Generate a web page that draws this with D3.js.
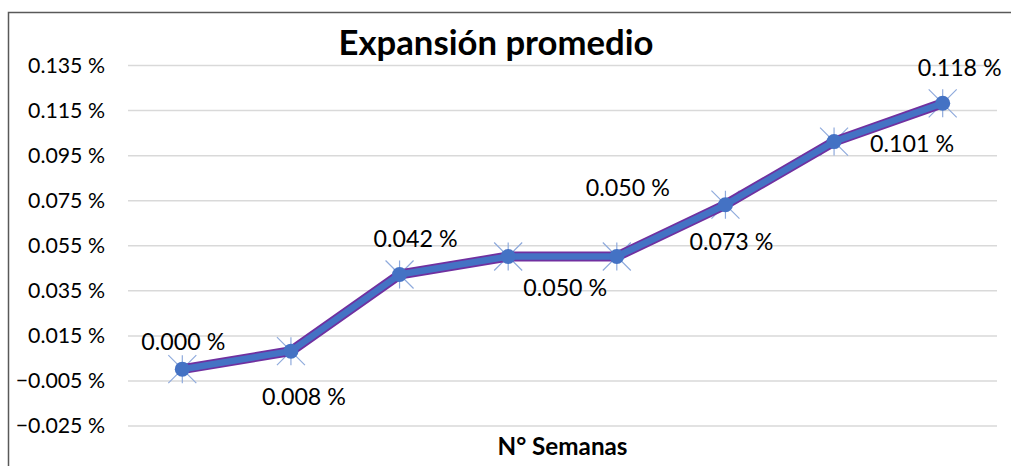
<!DOCTYPE html>
<html>
<head>
<meta charset="utf-8">
<script src="https://cdn.jsdelivr.net/npm/d3@7"></script>
<style>
  html, body { margin: 0; padding: 0; background: #fff; }
  svg { display: block; }
  text { font-family: Lato, "Open Sans", sans-serif; fill: #000; }
</style>
</head>
<body>
<svg id="chart" width="1011" height="466"></svg>
<script>
// Weekly average expansion (percent)
const weeks = ["1", "2", "3", "4", "5", "6", "7", "8"];
const expansion = [0.000, 0.008, 0.042, 0.050, 0.050, 0.073, 0.101, 0.118];
const yTicks = [-0.025, -0.005, 0.015, 0.035, 0.055, 0.075, 0.095, 0.115, 0.135];
const chartTitle = "Expansión promedio";
const xTitle = "N° Semanas";

// Label placement around each point (dx, dy of label baseline centre)
const labelOffsets = [
  [1, -19], [13, 54], [16, -28], [57, 39],
  [11, -61], [6, 45], [78, 10], [17, -27]
];

const svg = d3.select("#chart");
const plot = { left: 128, right: 997, top: 65, bottom: 425.5 };

const x = d3.scalePoint().domain(weeks).range([plot.left, plot.right]).padding(0.5);
const y = d3.scaleLinear().domain([-0.025, 0.135]).range([plot.bottom, plot.top]);
const fmt = v => d3.format(".3f")(v) + " %";

// Size a font so a sample string spans a given width
function fitSize(sample, width, weight) {
  const t = svg.append("text").attr("font-size", 100).attr("font-weight", weight || "normal").text(sample);
  const w = t.node().getComputedTextLength();
  t.remove();
  return 100 * width / w;
}
const tickSize = fitSize("0.135 %", 77);
const labelSize = fitSize("0.000 %", 84);
const titleSize = fitSize(chartTitle, 315, "bold");
const xTitleSize = fitSize(xTitle, 130, "bold");

// Chart frame
svg.append("rect")
  .attr("x", 8.5).attr("y", 12.5)
  .attr("width", 1100).attr("height", 600)
  .attr("fill", "none").attr("stroke", "#595959").attr("stroke-width", 1.5);

// Gridlines and value axis labels
const yAxis = d3.axisLeft(y).tickValues(yTicks)
  .tickSize(-(plot.right - plot.left)).tickPadding(23).tickFormat(fmt);
const gy = svg.append("g").attr("transform", `translate(${plot.left},0)`).call(yAxis);
gy.select(".domain").remove();
gy.selectAll(".tick line").attr("stroke", "#d9d9d9").attr("stroke-width", 1.5);
gy.selectAll(".tick text")
  .attr("font-family", "Lato, 'Open Sans', sans-serif")
  .attr("font-size", tickSize).attr("fill", "#000").attr("dy", "0.34em");

// Star markers
const stars = svg.append("g").attr("stroke", "#8faadc").attr("stroke-width", 1.2).attr("fill", "none");
weeks.forEach((w, i) => {
  const cx = x(w), cy = y(expansion[i]), r = 14;
  stars.append("path").attr("d",
    `M${cx - r},${cy - r}L${cx + r},${cy + r}M${cx - r},${cy + r}L${cx + r},${cy - r}M${cx},${cy - r}L${cx},${cy + r}`);
});

// Series line: purple edge under a blue core
const line = d3.line().x((d, i) => x(weeks[i])).y(d => y(d));
svg.append("path").datum(expansion).attr("d", line)
  .attr("fill", "none").attr("stroke", "#7030a0").attr("stroke-width", 10).attr("stroke-linejoin", "round");
svg.append("path").datum(expansion).attr("d", line)
  .attr("fill", "none").attr("stroke", "#4472c4").attr("stroke-width", 6.5).attr("stroke-linejoin", "round");

// Circle markers
svg.append("g").selectAll("circle").data(expansion).join("circle")
  .attr("cx", (d, i) => x(weeks[i])).attr("cy", d => y(d)).attr("r", 7.5)
  .attr("fill", "#4472c4");

// Data labels
svg.append("g").selectAll("text").data(expansion).join("text")
  .attr("x", (d, i) => x(weeks[i]) + labelOffsets[i][0])
  .attr("y", (d, i) => y(d) + labelOffsets[i][1])
  .attr("text-anchor", "middle").attr("font-size", labelSize)
  .text(fmt);

// Titles
svg.append("text").attr("x", 496).attr("y", 55).attr("text-anchor", "middle")
  .attr("font-weight", "bold").attr("font-size", titleSize).text(chartTitle);
svg.append("text").attr("x", (plot.left + plot.right) / 2).attr("y", 455).attr("text-anchor", "middle")
  .attr("font-weight", "bold").attr("font-size", xTitleSize).text(xTitle);
</script>
</body>
</html>
